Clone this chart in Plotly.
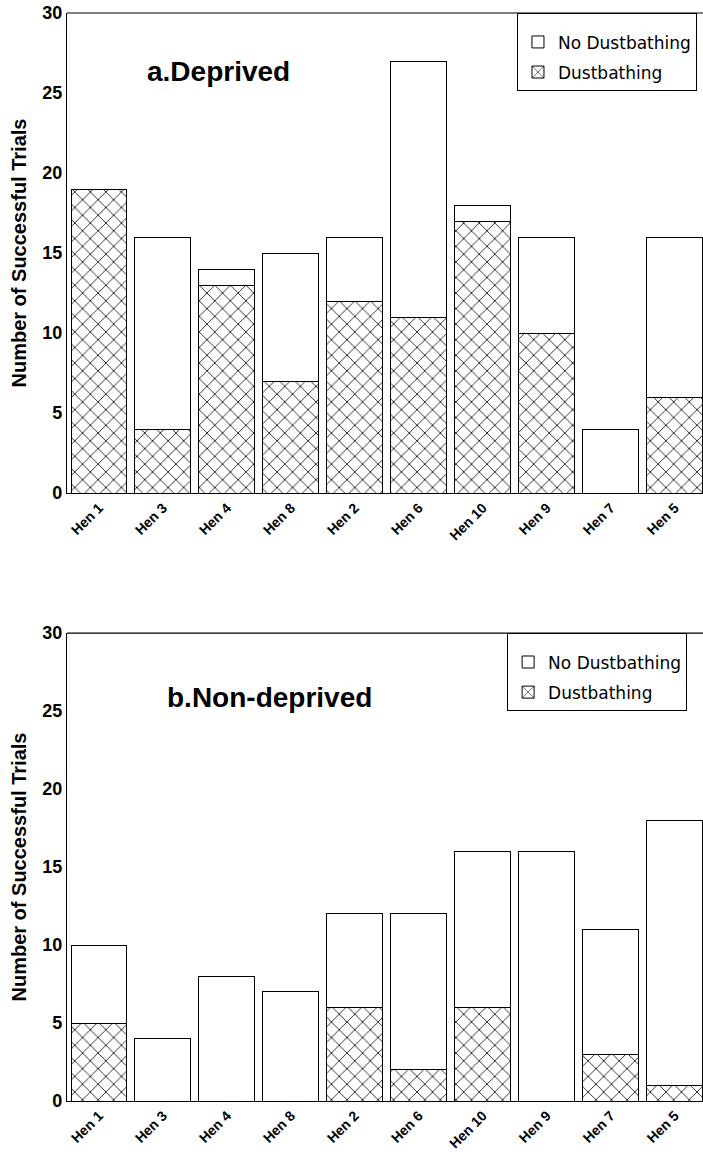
import plotly.graph_objects as go

hens = ["Hen 1", "Hen 3", "Hen 4", "Hen 8", "Hen 2", "Hen 6", "Hen 10", "Hen 9", "Hen 7", "Hen 5"]

# a. Deprived
dep_dust = [19, 4, 13, 7, 12, 11, 17, 10, 0, 6]
dep_nodust = [0, 12, 1, 8, 4, 16, 1, 6, 4, 10]

# b. Non-deprived
non_dust = [5, 0, 0, 0, 6, 2, 6, 0, 3, 1]
non_nodust = [5, 4, 8, 7, 6, 10, 10, 16, 8, 17]

y_ticks = [0, 5, 10, 15, 20, 25, 30]

FONT = "Liberation Sans, Arial, sans-serif"
LFONT = "DejaVu Sans, sans-serif"
fig = go.Figure()

pattern = dict(shape="x", size=11, solidity=0.14, fgcolor="black", bgcolor="white", fgopacity=1)
line = dict(color="black", width=1)

def add_panel(dust, nodust, xa, ya, legend):
    fig.add_trace(go.Bar(x=hens, y=dust, name="Dustbathing", xaxis=xa, yaxis=ya,
                         marker=dict(color="white", pattern=pattern, line=line),
                         width=0.875, legend=legend, legendrank=2, legendgroup=legend + "d"))
    fig.add_trace(go.Bar(x=hens, y=nodust, name="No Dustbathing", xaxis=xa, yaxis=ya,
                         marker=dict(color="white", line=line),
                         width=0.875, legend=legend, legendrank=1, legendgroup=legend + "n"))

add_panel(dep_dust, dep_nodust, "x", "y", "legend")
add_panel(non_dust, non_nodust, "x2", "y2", "legend2")

xcommon = dict(type="category", range=[-0.5, 9.44], showline=True, linecolor="black", linewidth=1.2,
               mirror=False, ticks="", tickangle=-45, automargin=False,
               tickfont=dict(family=FONT, size=14, color="black", weight="bold"),
               showgrid=False, zeroline=False)
ycommon = dict(range=[0, 30], tickvals=y_ticks, showline=True, linecolor="black", linewidth=1.2,
               ticks="", showgrid=False, zeroline=False, automargin=False,
               tickfont=dict(family=FONT, size=18, color="black", weight="bold"),
               title=dict(text="Number of Successful Trials", standoff=10,
                          font=dict(family=FONT, size=20, color="black", weight="bold")))

legcommon = dict(xanchor="left", yanchor="top", bordercolor="black", borderwidth=1,
                 bgcolor="white", font=dict(family=LFONT, size=17, color="black"),
                 traceorder="grouped", tracegroupgap=5, itemwidth=30,
                 title=dict(text=" ", font=dict(size=8)))

fig.update_layout(
    width=703, height=1152,
    margin=dict(l=67, r=0, t=13, b=51, autoexpand=False),
    paper_bgcolor="white", plot_bgcolor="white",
    barmode="stack", showlegend=True,
    xaxis=dict(**xcommon, domain=[0, 1], anchor="y"),
    yaxis=dict(**ycommon, domain=[0.5588, 1.0], anchor="x"),
    xaxis2=dict(**xcommon, domain=[0, 1], anchor="y2"),
    yaxis2=dict(**ycommon, domain=[0.0, 0.4301], anchor="x2"),
    legend=dict(**legcommon, x=0.7075, y=1.0),
    legend2=dict(**legcommon, x=0.692, y=0.4301),
    annotations=[
        dict(text="a.Deprived", xref="paper", yref="paper", x=0.1226, y=0.9458, xanchor="left",
             yanchor="middle", showarrow=False,
             font=dict(family=FONT, size=28, color="black", weight="bold")),
        dict(text="b.Non-deprived", xref="paper", yref="paper", x=0.154, y=0.3713, xanchor="left",
             yanchor="middle", showarrow=False,
             font=dict(family=FONT, size=28, color="black", weight="bold")),
    ],
)

# top border line of each panel
for ya_ref in ("y domain", "y2 domain"):
    fig.add_shape(type="line", xref="paper", yref=ya_ref, x0=0, x1=1, y0=1, y1=1,
                  line=dict(color="black", width=1.2))

fig.write_html("out.html", config={"displayModeBar": False},
               post_script="document.body.style.margin='0';document.body.style.overflow='hidden';")
